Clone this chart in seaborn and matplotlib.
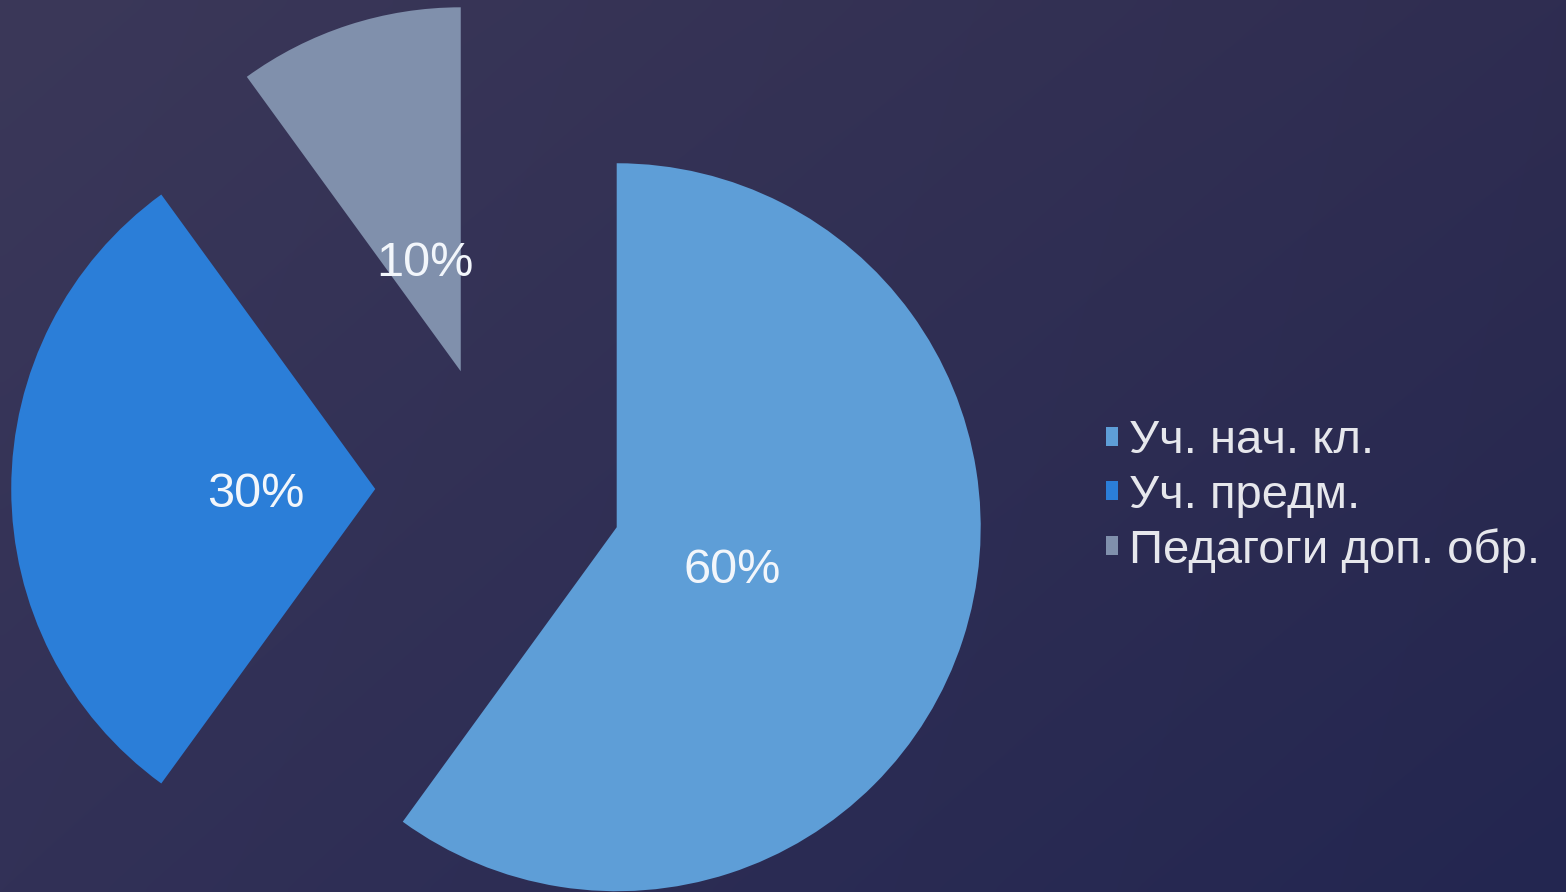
import numpy as np
import matplotlib
matplotlib.use("Agg")
import matplotlib.pyplot as plt
from matplotlib.colors import to_rgb
from matplotlib.transforms import offset_copy
import seaborn as sns

# ---- data ----
categories = ["Уч. нач. кл.", "Уч. предм.", "Педагоги доп. обр."]
shares = [60, 30, 10]
slice_colors = ["#5E9ED7", "#2B7ED8", "#8090AC"]

sns.set_theme(style="white")
plt.rcParams["font.family"] = ["Liberation Sans", "DejaVu Sans"]

W, H = 1566, 892
fig = plt.figure(figsize=(W / 100, H / 100), dpi=100)

# background gradient
tl, tr = np.array(to_rgb("#3B3859")), np.array(to_rgb("#2F2D51"))
bl, br = np.array(to_rgb("#323157")), np.array(to_rgb("#232650"))
u = np.linspace(0, 1, 200)[None, :, None]
v = np.linspace(0, 1, 120)[:, None, None]
grad = (1 - v) * ((1 - u) * tl + u * tr) + v * ((1 - u) * bl + u * br)
bg = fig.add_axes([0, 0, 1, 1])
bg.imshow(grad, aspect="auto", extent=(0, 1, 0, 1), interpolation="bicubic")
bg.set_axis_off()

# pie axes: 1 data unit = 364 px, pie centre at (499, 489) px from top-left
ax = fig.add_axes([0, 0, 1, 1])
ax.patch.set_alpha(0)
R = 364.0
cx, cy = 499.0, 489.0
palette = sns.color_palette(slice_colors)
wedges, texts, autotexts = ax.pie(
    shares,
    colors=palette,
    startangle=90,
    counterclock=False,
    explode=[0.34, 0.34, 0.34],
    radius=1.0,
    autopct=lambda p: f"{p:.0f}%",
    pctdistance=0.33,
    wedgeprops=dict(linewidth=0),
    textprops=dict(color="#F2F6FB", fontsize=35),
)
shifted = offset_copy(ax.transData, fig=fig, x=1, y=-6, units="dots")
for t in autotexts:
    t.set_transform(shifted)
ax.set_xlim(-cx / R, (W - cx) / R)
ax.set_ylim(-(H - cy) / R, cy / R)
ax.set_aspect("auto")
ax.set_axis_off()

leg = fig.legend(
    wedges,
    categories,
    loc="center left",
    bbox_to_anchor=(1106 / W, 1 - 496 / H),
    bbox_transform=fig.transFigure,
    frameon=False,
    fontsize=34,
    labelspacing=0.22,
    handlelength=0.25,
    handleheight=0.25,
    handletextpad=0.24,
    borderpad=0,
    borderaxespad=0,
    labelcolor="#E6E7EC",
)

fig.savefig("out.png", dpi=100)
